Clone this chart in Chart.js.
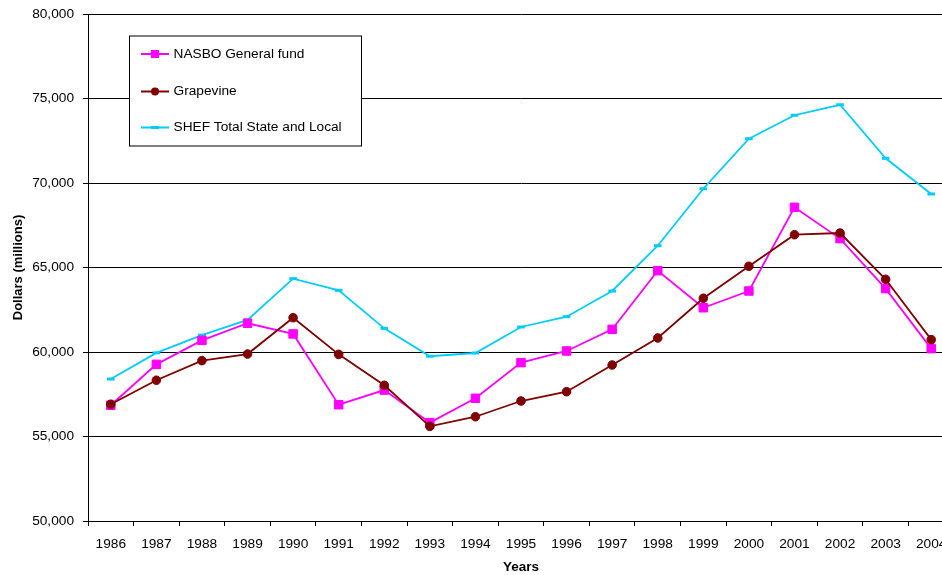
<!DOCTYPE html>
<html>
<head>
<meta charset="utf-8">
<script src="https://cdn.jsdelivr.net/npm/chart.js@4.4.1/dist/chart.umd.min.js"></script>
<style>
  html, body { margin: 0; padding: 0; background: #fff; overflow: hidden; }
  #wrap { width: 962px; height: 575px; }
</style>
</head>
<body>
<div id="wrap"><canvas id="c" width="962" height="575"></canvas></div>
<script>
const years = ['1986','1987','1988','1989','1990','1991','1992','1993','1994','1995',
               '1996','1997','1998','1999','2000','2001','2002','2003','2004'];

const nasbo = [56850, 59270, 60690, 61700, 61070, 56880, 57750, 55820, 57260, 59370,
               60060, 61340, 64810, 62620, 63610, 68560, 66710, 63750, 60200];

const grapevine = [56910, 58330, 59490, 59880, 62030, 59860, 58030, 55600, 56170, 57100,
                   57650, 59230, 60830, 63180, 65070, 66940, 67040, 64300, 60730];

const shef = [58400, 59950, 61000, 61900, 64340, 63650, 61400, 59750, 59940, 61480,
              62090, 63610, 66290, 69660, 72620, 74010, 74630, 71460, 69350];

const yTicks = [50000, 55000, 60000, 65000, 70000, 75000, 80000];

const FONT = '"Liberation Sans", Arial, sans-serif';

const seriesInfo = [
  { label: 'NASBO General fund', data: nasbo, color: '#FF00FF', marker: 'square' },
  { label: 'Grapevine', data: grapevine, color: '#800000', marker: 'circle' },
  { label: 'SHEF Total State and Local', data: shef, color: '#00CCFF', marker: 'dash' }
];

// Boxed legend in the upper-left of the plot
const boxLegend = {
  id: 'boxLegend',
  afterDatasetsDraw(chart) {
    const ctx = chart.ctx;
    const x0 = 129, y0 = 35.5, w = 232, h = 110;
    ctx.save();
    ctx.fillStyle = '#fff';
    ctx.fillRect(x0, y0, w, h);
    ctx.strokeStyle = '#000';
    ctx.lineWidth = 1;
    ctx.strokeRect(x0 + 0.5, y0 + 0.5, w, h);
    const rows = [54, 91.5, 127.5];
    ctx.font = '13.7px ' + FONT;
    ctx.textBaseline = 'middle';
    seriesInfo.forEach((s, i) => {
      const y = rows[i];
      ctx.strokeStyle = s.color;
      ctx.lineWidth = 2;
      ctx.beginPath();
      ctx.moveTo(141, y);
      ctx.lineTo(169, y);
      ctx.stroke();
      ctx.fillStyle = s.color;
      const cx = 155;
      if (s.marker === 'square') {
        ctx.fillRect(cx - 4, y - 4, 8, 8);
      } else if (s.marker === 'circle') {
        ctx.beginPath();
        ctx.arc(cx, y, 4, 0, Math.PI * 2);
        ctx.fill();
      } else {
        ctx.fillRect(cx - 4, y - 1.5, 8, 3);
      }
      ctx.fillStyle = '#000';
      ctx.fillText(s.label, 173.5, y);
    });
    ctx.restore();
  }
};

const markerStyle = {
  square: { pointStyle: 'rect', pointRadius: 6, pointBorderWidth: 1 },
  circle: { pointStyle: 'circle', pointRadius: 4.3, pointBorderWidth: 1 },
  dash: { pointStyle: 'line', pointRadius: 3.8, pointBorderWidth: 3 }
};

const datasets = seriesInfo.map(s => Object.assign({
  label: s.label,
  data: s.data,
  borderColor: s.color,
  backgroundColor: s.color,
  pointBackgroundColor: s.color,
  pointBorderColor: s.color,
  borderWidth: 1.8,
  tension: 0,
  pointHoverRadius: 5
}, markerStyle[s.marker]));

// Drawing order: SHEF at the back, NASBO in the middle, Grapevine in front
datasets[0].order = 2;
datasets[1].order = 1;
datasets[2].order = 3;

new Chart(document.getElementById('c'), {
  type: 'line',
  data: { labels: years, datasets },
  plugins: [boxLegend],
  options: {
    responsive: false,
    animation: false,
    events: [],
    layout: { padding: { top: 14, right: 3, bottom: 0, left: 0 } },
    plugins: { legend: { display: false }, tooltip: { enabled: false } },
    scales: {
      x: {
        type: 'category',
        offset: true,
        grid: {
          offset: true,
          drawOnChartArea: false,
          drawTicks: true,
          tickLength: 5,
          color: '#000',
          lineWidth: 1
        },
        border: { color: '#000', width: 1 },
        ticks: {
          color: '#000',
          font: { family: FONT, size: 13.7 },
          padding: 10,
          maxRotation: 0,
          autoSkip: false
        },
        title: {
          display: true,
          text: 'Years',
          color: '#000',
          font: { family: FONT, size: 13.5, weight: 'bold' },
          padding: { top: 0, bottom: 0 }
        },
        afterFit(scale) {
          scale.height = 54;
          scale.paddingLeft = 0;
          scale.paddingRight = 0;
        }
      },
      y: {
        min: 50000,
        max: 80000,
        afterBuildTicks(scale) { scale.ticks = yTicks.map(v => ({ value: v })); },
        grid: {
          color: '#000',
          lineWidth: 1,
          drawTicks: true,
          tickLength: 5
        },
        border: { color: '#000', width: 1 },
        ticks: {
          color: '#000',
          font: { family: FONT, size: 13.7 },
          padding: 9,
          callback: v => v.toLocaleString('en-US')
        },
        title: {
          display: true,
          text: 'Dollars (millions)',
          color: '#000',
          font: { family: FONT, size: 13, weight: 'bold' },
          padding: { top: 11, bottom: 0 }
        },
        afterFit(scale) {
          scale.width = 88;
          scale.paddingTop = 0;
          scale.paddingBottom = 0;
        }
      }
    }
  }
});
</script>
</body>
</html>
